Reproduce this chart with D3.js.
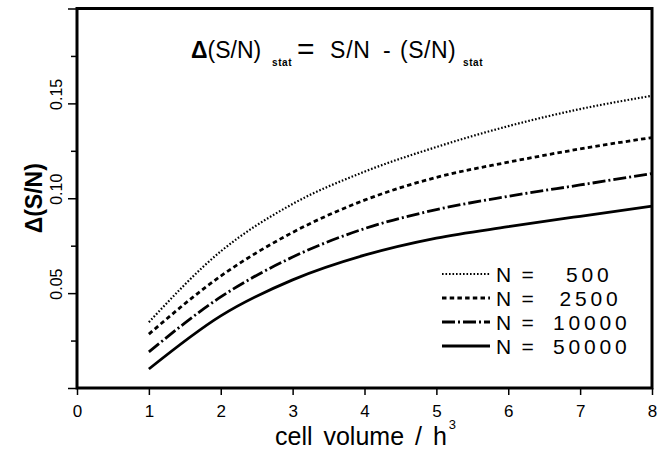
<!DOCTYPE html>
<html>
<head>
<meta charset="utf-8">
<script src="https://cdn.jsdelivr.net/npm/d3@7"></script>
<style>
  html, body { margin: 0; padding: 0; background: #fff; }
  svg { display: block; font-family: "Liberation Sans", Arial, Helvetica, sans-serif; }
</style>
</head>
<body>
<svg id="chart" width="667" height="451"></svg>
<script>
// ---- data ----
const cellVolume = [1, 2, 3, 4, 5, 6, 7, 8];
const seriesN500   = [0.0347, 0.072, 0.097, 0.114, 0.127, 0.138, 0.147, 0.154];
const seriesN2500  = [0.0284, 0.059, 0.082, 0.099, 0.111, 0.119, 0.126, 0.132];
const seriesN10000 = [0.019, 0.048, 0.069, 0.084, 0.094, 0.101, 0.107, 0.113];
const seriesN50000 = [0.010, 0.038, 0.057, 0.070, 0.079, 0.085, 0.0905, 0.0958];
const legendNumbers = ["500", "2500", "10000", "50000"];
const xTickValues = [0, 1, 2, 3, 4, 5, 6, 7, 8];
const yMajorTicks = [0, 0.05, 0.10, 0.15, 0.20];
const yMinorTicks = [0.025, 0.075, 0.125, 0.175];
const yTickLabels = ["0.05", "0.10", "0.15"];

// ---- layout ----
const svg = d3.select("#chart");
const L = 77, R = 652, T = 8.5, B = 388;
const x = d3.scaleLinear().domain([0, 8]).range([L, R]);
const y = d3.scaleLinear().domain([0, 0.2]).range([B, T]);

const styles = [
  { dash: "1.6,1.9", width: 2.2 },
  { dash: "4.5,3.2", width: 2.8 },
  { dash: "13,3,2,3", width: 2.8 },
  { dash: null, width: 2.8 }
];
const allSeries = [seriesN500, seriesN2500, seriesN10000, seriesN50000];

// axes via d3
const xAxis = d3.axisBottom(x).tickValues(xTickValues).tickSize(7).tickFormat("");
const gx = svg.append("g").attr("transform", `translate(0,${B})`).call(xAxis);
gx.select(".domain").remove();
gx.selectAll(".tick line").attr("stroke", "#000").attr("stroke-width", 1.5);

gx.selectAll(".tick").append("text")
  .attr("y", 29).attr("text-anchor", "middle")
  .attr("font-size", 17).attr("fill", "#000")
  .text(d => d3.format("d")(d));

const yAxisMajor = d3.axisLeft(y).tickValues(yMajorTicks).tickSize(9).tickFormat("");
const gy = svg.append("g").attr("transform", `translate(${L},0)`).call(yAxisMajor);
gy.select(".domain").remove();
gy.selectAll(".tick line").attr("stroke", "#000").attr("stroke-width", 1.5);

const yAxisMinor = d3.axisLeft(y).tickValues(yMinorTicks).tickSize(6).tickFormat("");
const gy2 = svg.append("g").attr("transform", `translate(${L},0)`).call(yAxisMinor);
gy2.select(".domain").remove();
gy2.selectAll(".tick line").attr("stroke", "#000").attr("stroke-width", 1.5);

// rotated y tick labels
yTickLabels.forEach(lbl => {
  const v = +lbl;
  svg.append("text")
    .attr("transform", `translate(62,${y(v) - 9}) rotate(-90)`)
    .attr("text-anchor", "middle")
    .attr("font-size", 16).attr("fill", "#000")
    .text(lbl);
});

// curves
const line = d3.line()
  .x((d, i) => x(cellVolume[i]))
  .y(d => y(d))
  .curve(d3.curveMonotoneX);

allSeries.forEach((s, k) => {
  svg.append("path")
    .attr("d", line(s))
    .attr("fill", "none")
    .attr("stroke", "#000")
    .attr("stroke-width", styles[k].width)
    .attr("stroke-dasharray", styles[k].dash);
});

// frame
svg.append("rect")
  .attr("x", L).attr("y", T).attr("width", R - L).attr("height", B - T)
  .attr("fill", "none").attr("stroke", "#000").attr("stroke-width", 3);

// legend
const legRowY = [274, 298, 322, 346];
legendNumbers.forEach((num, k) => {
  const ry = legRowY[k];
  svg.append("line")
    .attr("x1", 442).attr("x2", 490).attr("y1", ry).attr("y2", ry)
    .attr("stroke", "#000")
    .attr("stroke-width", styles[k].width)
    .attr("stroke-dasharray", styles[k].dash);
  svg.append("text")
    .attr("x", 496).attr("y", ry + 8)
    .attr("font-size", 21).attr("letter-spacing", 2.2).attr("fill", "#000")
    .text("N =");
  svg.append("text")
    .attr("x", 553 + (5 - num.length) * 6.5).attr("y", ry + 8)
    .attr("font-size", 21).attr("letter-spacing", 3.8).attr("fill", "#000")
    .text(num);
});

// equation
const eq = svg.append("g").attr("fill", "#000");
const t1 = eq.append("text").attr("x", 191).attr("y", 58).attr("font-size", 23);
t1.append("tspan").attr("font-weight", "bold").text("\u0394");
t1.append("tspan").text("(S/N)");
eq.append("text").attr("x", 272).attr("y", 66).attr("font-size", 10).attr("font-weight", "bold").attr("letter-spacing", 0.6).text("stat");
eq.append("text").attr("x", 297).attr("y", 59).attr("font-size", 30).text("=");
eq.append("text").attr("x", 330).attr("y", 58).attr("font-size", 23).attr("letter-spacing", 0.8).text("S/N");
eq.append("text").attr("x", 383).attr("y", 58).attr("font-size", 23).text("-");
eq.append("text").attr("x", 400).attr("y", 58).attr("font-size", 23).attr("letter-spacing", 0.5).text("(S/N)");
eq.append("text").attr("x", 463).attr("y", 66).attr("font-size", 10).attr("font-weight", "bold").attr("letter-spacing", 0.6).text("stat");

// x axis title
const xt = svg.append("text").attr("x", 275).attr("y", 445).attr("font-size", 25).attr("fill", "#000").attr("word-spacing", 4);
xt.append("tspan").text("cell volume / h");
xt.append("tspan").attr("font-size", 13).attr("dy", -16).attr("dx", 2).text("3");

// y axis title
svg.append("text")
  .attr("transform", `translate(42,${y(0.1)}) rotate(-90)`)
  .attr("text-anchor", "middle")
  .attr("font-size", 23).attr("font-weight", "bold").attr("fill", "#000")
  .text("\u0394(S/N)");
</script>
</body>
</html>
